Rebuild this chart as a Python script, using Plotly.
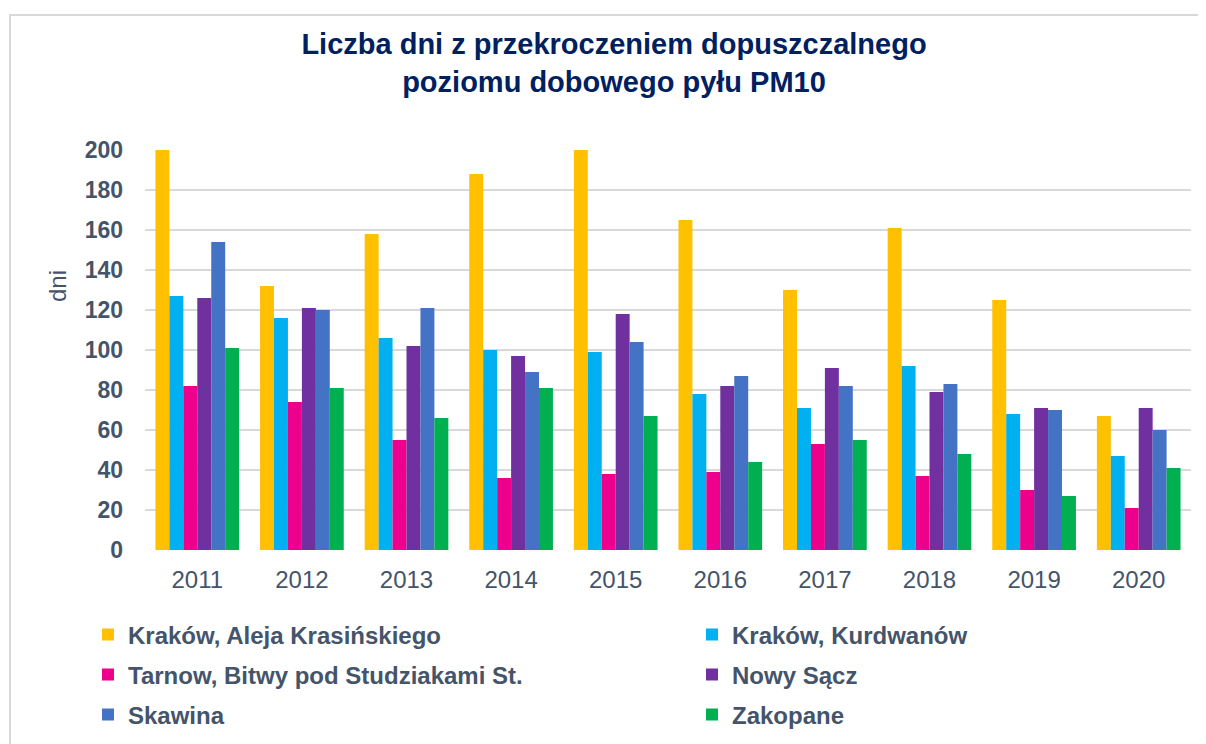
import plotly.graph_objects as go

years = ["2011", "2012", "2013", "2014", "2015", "2016", "2017", "2018", "2019", "2020"]

series_names = [
    "Kraków, Aleja Krasińskiego",
    "Kraków, Kurdwanów",
    "Tarnow, Bitwy pod Studziakami St.",
    "Nowy Sącz",
    "Skawina",
    "Zakopane",
]

krakow_krasinskiego = [200, 132, 158, 188, 200, 165, 130, 161, 125, 67]
krakow_kurdwanow = [127, 116, 106, 100, 99, 78, 71, 92, 68, 47]
tarnow = [82, 74, 55, 36, 38, 39, 53, 37, 30, 21]
nowy_sacz = [126, 121, 102, 97, 118, 82, 91, 79, 71, 71]
skawina = [154, 120, 121, 89, 104, 87, 82, 83, 70, 60]
zakopane = [101, 81, 66, 81, 67, 44, 55, 48, 27, 41]

series_values = [krakow_krasinskiego, krakow_kurdwanow, tarnow, nowy_sacz, skawina, zakopane]
colors = ["#FFC000", "#00B0F0", "#EC008C", "#7030A0", "#4472C4", "#00B050"]
legend_ids = ["legend", "legend2", "legend3", "legend4", "legend5", "legend6"]

y_ticks = [0, 20, 40, 60, 80, 100, 120, 140, 160, 180, 200]

TEXT = "#44546A"
FONT = "Liberation Sans, Arial, sans-serif"

fig = go.Figure()
for name, vals, col, lg in zip(series_names, series_values, colors, legend_ids):
    fig.add_trace(go.Bar(
        x=years, y=vals, name=name, legend=lg,
        marker=dict(color=col, line=dict(width=0)),
    ))

W, H = 1206, 744
OFF = 8  # page body margin offset
# desired plot area in page pixels: x 145..1191, y 150..550
L = 145 - OFF
T = 150 - OFF
R = W - (1191 - OFF)
B = H - (550 - OFF)
pw, ph = W - L - R, H - T - B

def px(x):
    return (x - OFF - L) / pw

def py(y):
    return (H - B - (y - OFF)) / ph

def legend_at(xpix, ypix):
    return dict(
        orientation="h", xanchor="left", yanchor="middle",
        xref="container", yref="container",
        x=(xpix - OFF) / W, y=1 - (ypix - OFF) / H,
        font=dict(family=FONT, size=24, color=TEXT, weight="bold"),
        bgcolor="rgba(0,0,0,0)", itemwidth=30,
    )

col1, col2 = 88, 692
rows = [635, 675, 715]

fig.update_layout(
    width=W, height=H,
    showlegend=True,
    margin=dict(l=L, r=R, t=T, b=B, autoexpand=False),
    paper_bgcolor="white", plot_bgcolor="white",
    barmode="group", bargap=0.2, bargroupgap=0,
    font=dict(family=FONT, color=TEXT),
    title=dict(
        text="Liczba dni z przekroczeniem dopuszczalnego<br>poziomu dobowego pyłu PM10",
        font=dict(family=FONT, size=29, color="#002060", weight="bold"),
        x=(614 - OFF) / W, xref="container", xanchor="center",
        y=1 - (54 - OFF) / H, yref="container", yanchor="top",
    ),
    xaxis=dict(
        type="category", automargin=False,
        tickfont=dict(family=FONT, size=24, color=TEXT),
        showgrid=False, zeroline=False, showline=False, ticks="",
        ticklabelstandoff=13,
    ),
    yaxis=dict(
        range=[0, 200], tickvals=y_ticks, automargin=False,
        tickfont=dict(family=FONT, size=23, color=TEXT, weight="bold"),
        showgrid=True, gridcolor="#D9D9D9", gridwidth=1.5,
        zeroline=False, showline=False, ticks="",
        ticklabelstandoff=21,
    ),
    legend=legend_at(col1, rows[0]),
    legend2=legend_at(col2, rows[0]),
    legend3=legend_at(col1, rows[1]),
    legend4=legend_at(col2, rows[1]),
    legend5=legend_at(col1, rows[2]),
    legend6=legend_at(col2, rows[2]),
    annotations=[dict(
        text="dni", textangle=-90, showarrow=False,
        xref="paper", yref="paper", x=px(57), y=py(286),
        xanchor="center", yanchor="middle",
        font=dict(family=FONT, size=24, color=TEXT),
    )],
    shapes=[dict(
        type="rect", xref="paper", yref="paper",
        x0=px(10), y0=py(15), x1=px(1230), y1=py(780),
        line=dict(color="#D9D9D9", width=2), fillcolor="rgba(0,0,0,0)",
        layer="below",
    )],
)

fig.write_html("out.html")
